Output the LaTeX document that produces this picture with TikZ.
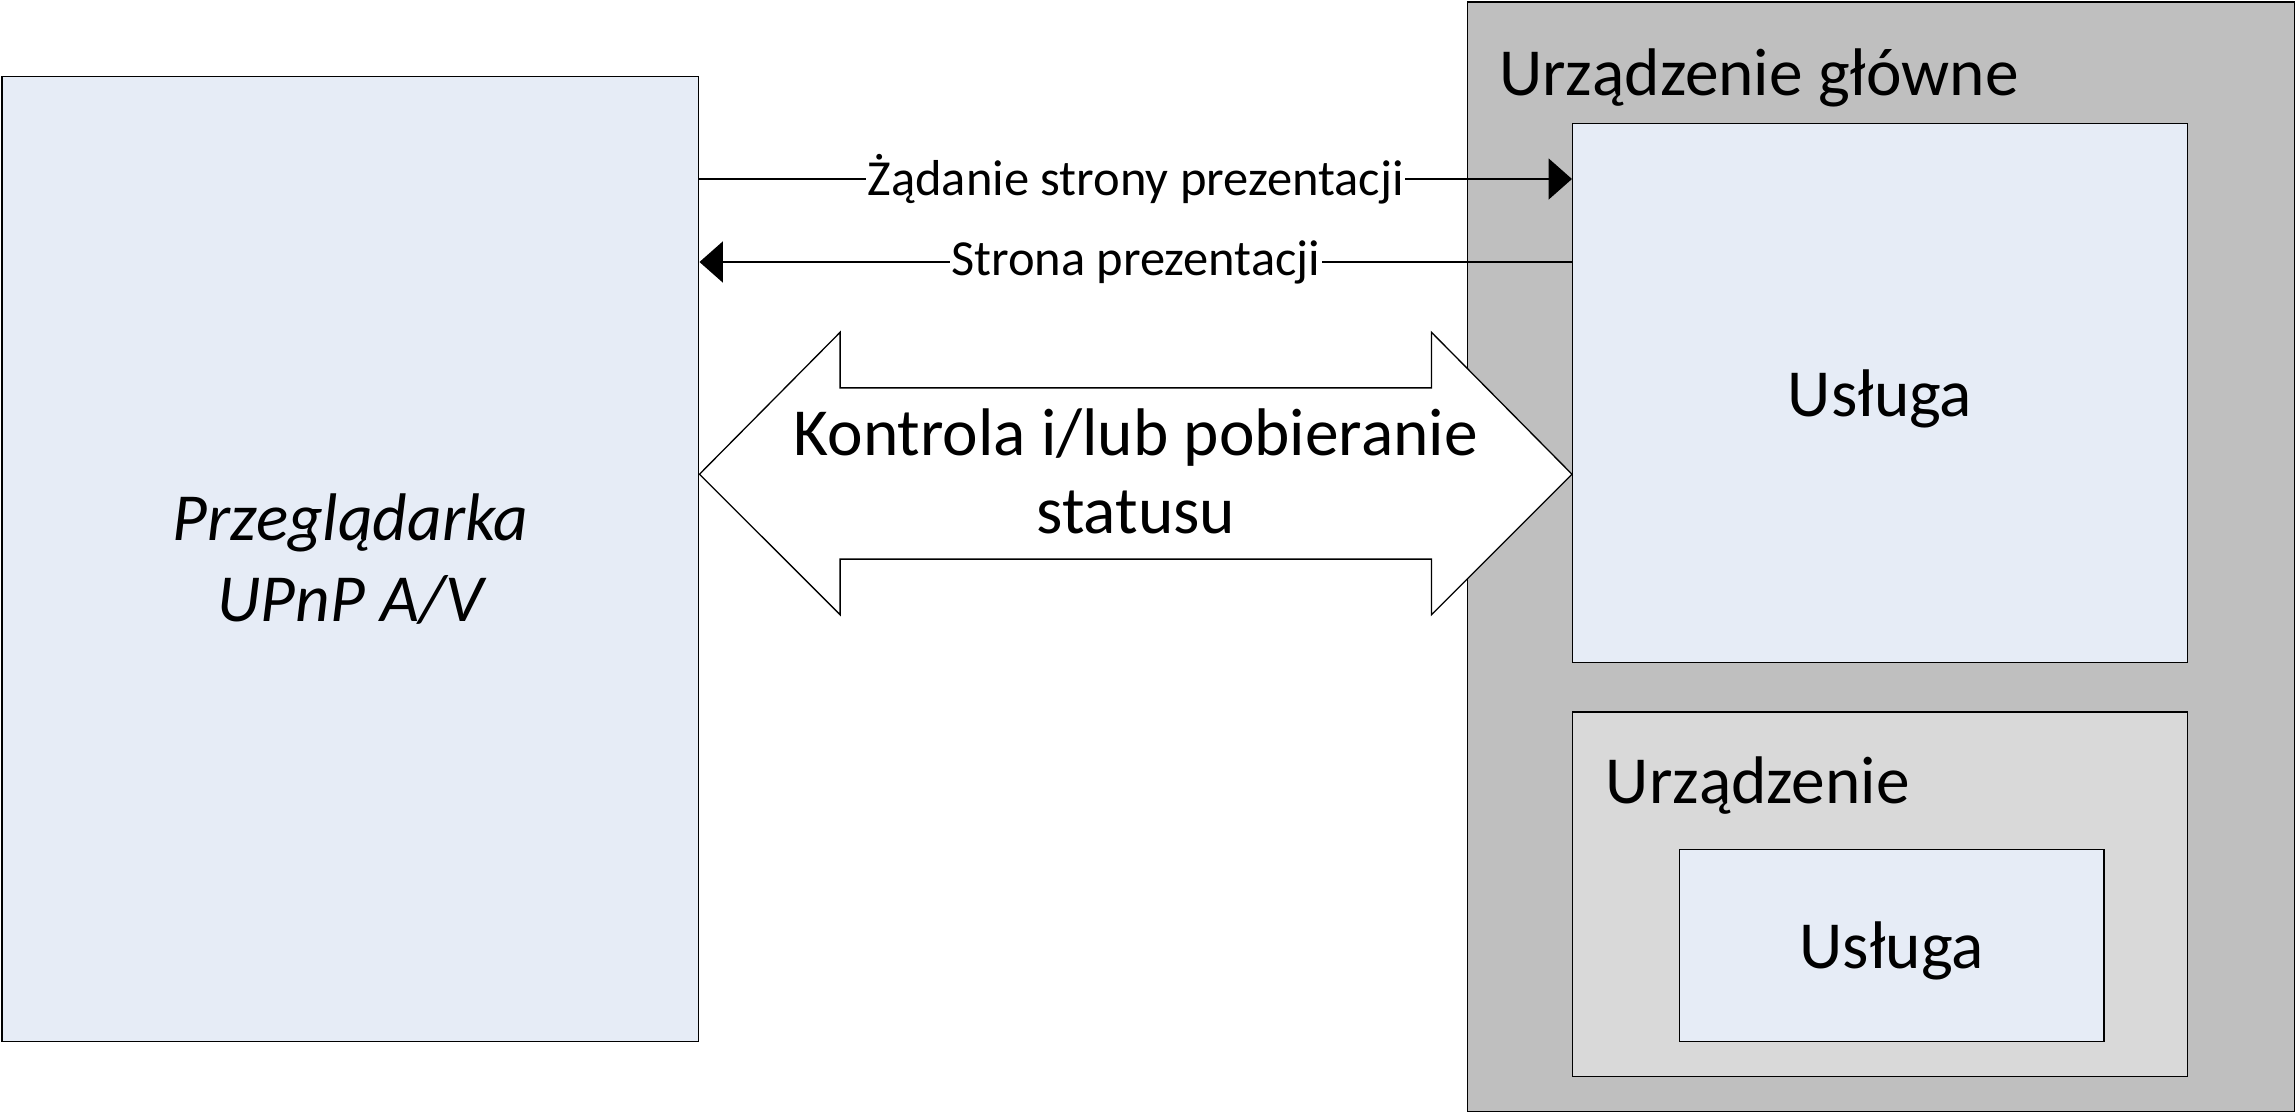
\documentclass[tikz,border=0pt]{standalone}
\usepackage{fontspec}
\setmainfont{Carlito}
\usetikzlibrary{arrows.meta,calc}
\definecolor{lblue}{HTML}{E6ECF6}
\definecolor{dgray}{HTML}{BFBFBF}
\definecolor{mgray}{HTML}{D9D9D9}
\begin{document}
\begin{tikzpicture}[x=1pt,y=-1pt,
  box/.style={draw=black,line width=0.9pt,inner sep=0pt,anchor=north west,align=center},
  bigtxt/.style={font=\fontsize{46}{53}\selectfont},
  smalltxt/.style={font=\fontsize{34.5}{40}\selectfont},
  msg/.style={draw=black,line width=1.2pt,-{Triangle[length=16pt,width=28pt]}},
  lbl/.style={fill=white,inner sep=1pt,smalltxt}]
\useasboundingbox (0,0) rectangle (1568,761);
\node[box,fill=lblue,minimum width=476pt,minimum height=659pt,font=\itshape\fontsize{46}{55}\selectfont] (browser) at (1,52) {Przeglądarka\\UPnP A/V};
\node[box,fill=dgray,minimum width=565pt,minimum height=758pt] (main) at (1002,1) {};
\node[bigtxt,anchor=west,inner sep=0pt] (mainlbl) at (1024,53) {Urządzenie główne};
\node[box,fill=lblue,minimum width=420pt,minimum height=368pt,bigtxt,text depth=0pt] (svc1) at (1074,84) {Usługa};
\node[box,fill=mgray,minimum width=420pt,minimum height=249pt] (dev) at (1074,486) {};
\node[bigtxt,anchor=west,inner sep=0pt] (devlbl) at (1097,537) {Urządzenie};
\node[box,fill=lblue,minimum width=290pt,minimum height=131pt,bigtxt,text depth=0pt] (svc2) at (1147,580) {Usługa};
\draw[msg] (browser.east |- 0,122.3) -- node[lbl] {Żądanie strony prezentacji} (svc1.west |- 0,122.3);
\draw[msg] (svc1.west |- 0,179) -- node[lbl] {Strona prezentacji} (browser.east |- 0,179);
\coordinate (lt) at (browser.east |- 0,324);
\coordinate (rt) at (svc1.west |- 0,324);
\draw[line width=0.9pt,fill=white,line join=miter] (lt) -- (574,227) -- (574,265) -- (978,265) -- (978,227) -- (rt) -- (978,420) -- (978,382) -- (574,382) -- (574,420) -- cycle;
\node[bigtxt,align=center] (ctl) at (776,322) {Kontrola i/lub pobieranie\\statusu};
\end{tikzpicture}
\end{document}
